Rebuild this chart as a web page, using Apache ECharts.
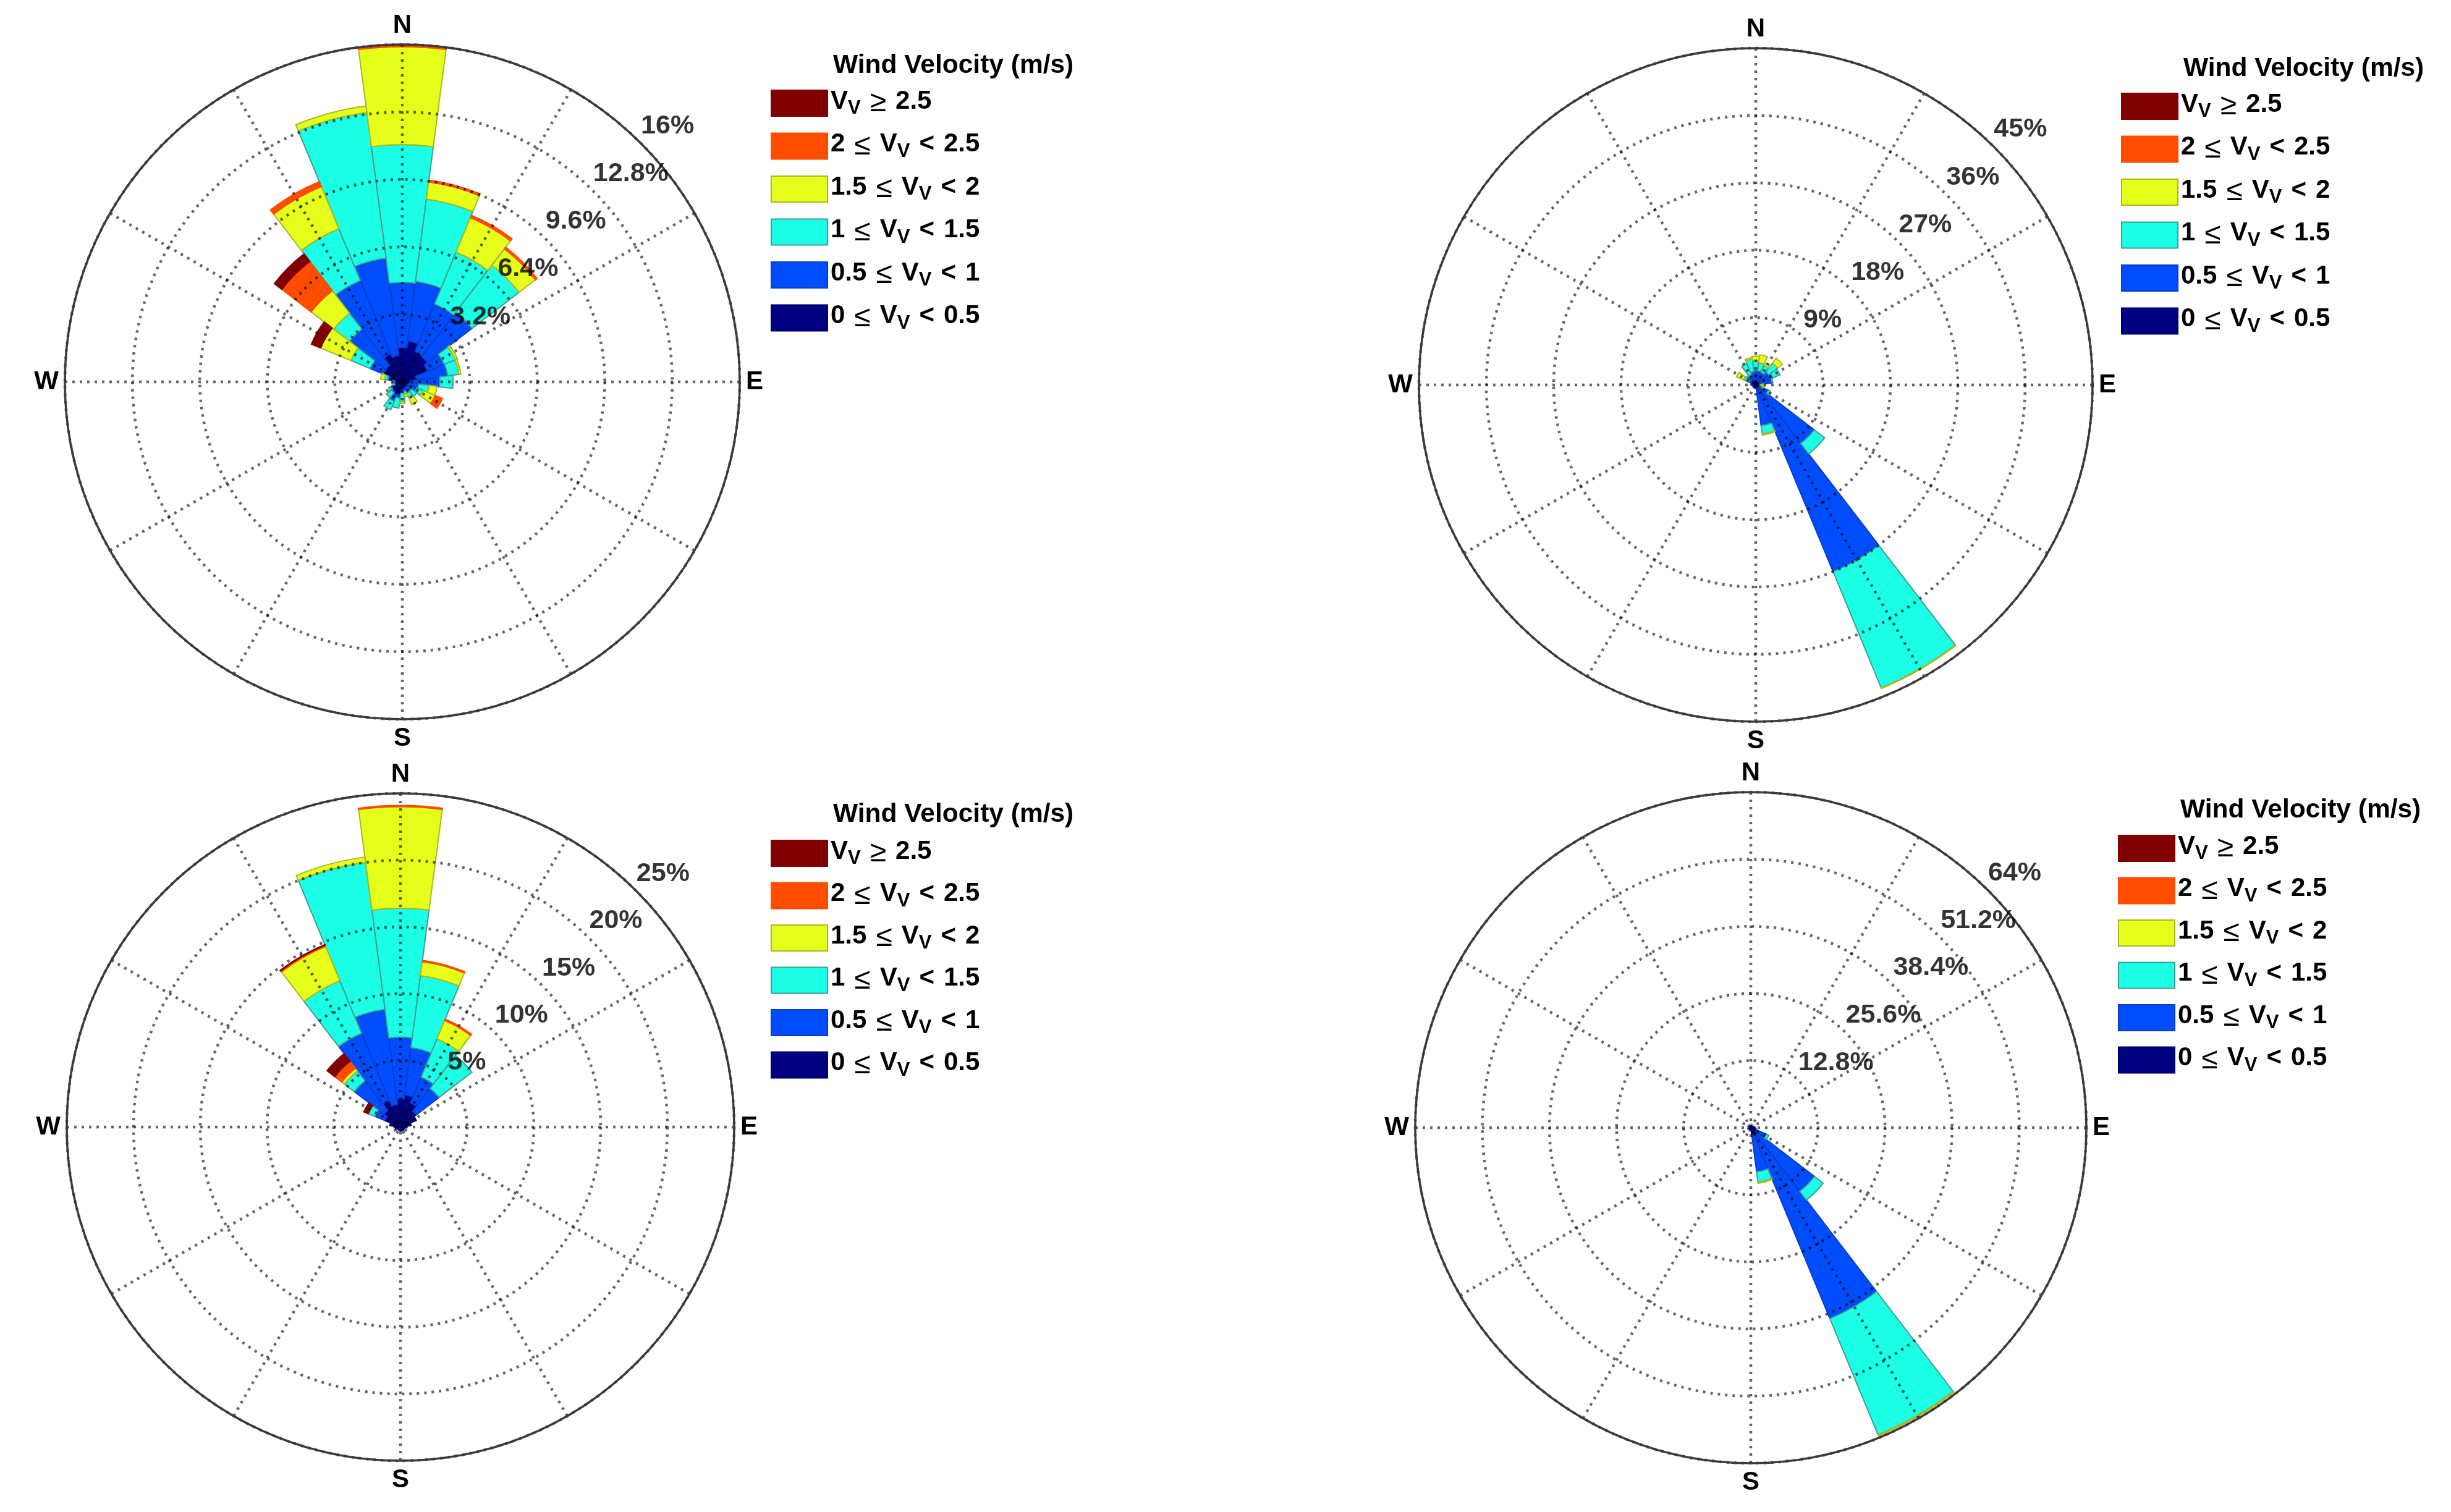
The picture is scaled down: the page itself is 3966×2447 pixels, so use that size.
<!DOCTYPE html>
<html>
<head>
    <meta charset="utf-8" />
    <script src="https://cdn.jsdelivr.net/npm/echarts@6/dist/echarts.min.js"></script>
    <style>
        html, body { margin: 0; padding: 0; background: #fff; }
        #main { width: 3966px; height: 2447px; }
    </style>
</head>
<body>
<div id="main"></div>
<script type="text/javascript">
    // direction bins, clockwise from north
    var directions = ['0', '15', '30', '45', '60', '75', '90', '105', '120', '135', '150', '165',
        '180', '195', '210', '225', '240', '255', '270', '285', '300', '315', '330', '345'];
    var speedLabels = ['0 ≤ V_V < 0.5', '0.5 ≤ V_V < 1', '1 ≤ V_V < 1.5', '1.5 ≤ V_V < 2', '2 ≤ V_V < 2.5', 'V_V ≥ 2.5'];
    var speedColors = ['#000080', '#004dff', '#1affe6', '#e6ff1a', '#ff4d00', '#800000'];
    var edgeColors = ['#00006a', '#0a3cc8', '#3f9c90', '#a8b820', '#ff4d00', '#800000'];
    var legendTitle = 'Wind Velocity (m/s)';

    var aCalm   = [1.63, 1.96, 1.56, 1.5, 1.3, 0.68, 0.4, 0.36, 0.3, 0.3, 0.3, 0.35, 0.4, 0.62, 0.68, 0.58, 0.5, 0.35, 0.35, 0.63, 0.97, 1.0, 1.43, 1.26];
    var aLow    = [4.72, 4.8, 4.0, 4.16, 2.15, 2.17, 1.78, 0.78, 0.74, 0.55, 0.56, 0.45, 0.54, 0.78, 1.0, 0.65, 0.6, 0.4, 0.4, 0.7, 1.65, 3.15, 5.2, 5.92];
    var aMid    = [11.25, 8.74, 6.66, 6.97, 2.73, 2.71, 2.41, 1.29, 1.07, 0.86, 0.86, 0.6, 0.95, 1.26, 1.43, 0.95, 0.7, 0.5, 0.47, 0.85, 2.64, 4.1, 7.86, 12.88];
    var aHigh   = [15.9, 9.56, 8.43, 7.95, 2.83, 2.8, 2.41, 1.67, 1.69, 0.86, 1.17, 0.73, 1.03, 1.26, 1.43, 0.95, 0.7, 0.5, 0.47, 1.04, 4.19, 5.45, 10.03, 13.2];
    var aStrong = [16, 9.65, 8.55, 8.05, 2.83, 2.8, 2.41, 1.67, 2.06, 0.86, 1.17, 0.73, 1.03, 1.26, 1.43, 0.95, 0.7, 0.5, 0.47, 1.04, 4.19, 7.2, 10.28, 13.2];
    var aTop    = [16, 9.65, 8.55, 8.05, 2.83, 2.8, 2.41, 1.67, 2.06, 0.86, 1.17, 0.73, 1.03, 1.26, 1.43, 0.95, 0.7, 0.5, 0.47, 1.04, 4.67, 7.65, 10.28, 13.2];
    var aTicks  = [3.2, 6.4, 9.6, 12.8, 16];

    var bCalm   = [0.8, 0.7, 0.6, 0.7, 0.6, 0.5, 0.3, 0.3, 0.4, 0.5, 0.5, 0.4, 0.3, 0.3, 0.3, 0.3, 0.3, 0.3, 0.5, 0.6, 0.7, 0.8, 0.8, 0.7];
    var bLow    = [2.0, 1.9, 1.8, 2.2, 2.5, 2.2, 0.6, 0.8, 1.8, 9.85, 27, 5.5, 0.5, 0.4, 0.4, 0.4, 0.4, 0.4, 0.6, 0.7, 1.0, 1.4, 1.5, 1.8];
    var bMid    = [3.3, 3.0, 2.9, 3.7, 3.5, 2.3, 0.7, 1.0, 2.1, 11.6, 43.8, 6.6, 0.5, 0.4, 0.4, 0.4, 0.4, 0.4, 0.6, 0.7, 1.75, 1.6, 3.1, 3.5];
    var bHigh   = [3.86, 4.07, 3.2, 4.5, 3.5, 2.3, 1.1, 1.2, 2.1, 11.6, 43.9, 6.75, 0.5, 0.4, 0.4, 0.4, 0.4, 0.4, 0.6, 0.7, 2.8, 1.6, 3.1, 3.7];
    var bStrong = [3.86, 4.07, 3.2, 4.5, 3.5, 2.3, 1.1, 1.2, 2.1, 11.6, 43.9, 6.75, 0.5, 0.4, 0.4, 0.4, 0.4, 0.4, 0.6, 0.7, 2.8, 1.6, 3.1, 3.7];
    var bTop    = [3.86, 4.07, 3.2, 4.5, 3.5, 2.3, 1.1, 1.2, 2.1, 11.6, 43.9, 6.75, 0.5, 0.4, 0.4, 0.4, 0.4, 0.4, 0.6, 0.7, 2.8, 1.6, 3.1, 3.7];
    var bTicks  = [9, 18, 27, 36, 45];

    var cCalm   = [2.13, 2.43, 1.96, 1.5, 1.28, 0.8, 0.43, 0.3, 0.3, 0.3, 0.3, 0.3, 0.3, 0.25, 0.25, 0.25, 0.3, 0.38, 0.3, 0.8, 1.27, 1.57, 2.16, 1.71];
    var cLow    = [6.74, 6.0, 4.05, 3.64, 1.28, 0.8, 0.43, 0.3, 0.3, 0.3, 0.3, 0.3, 0.3, 0.25, 0.25, 0.25, 0.3, 0.38, 0.3, 0.8, 2.08, 4.36, 7.6, 8.9];
    var cMid    = [16.4, 11.44, 7.15, 6.75, 1.28, 0.8, 0.43, 0.3, 0.3, 0.3, 0.3, 0.3, 0.3, 0.25, 0.25, 0.25, 0.3, 0.38, 0.3, 0.8, 2.62, 5.28, 11.87, 20.0];
    var cHigh   = [24.0, 12.5, 8.64, 6.75, 1.28, 0.8, 0.43, 0.3, 0.3, 0.3, 0.3, 0.3, 0.3, 0.25, 0.25, 0.25, 0.3, 0.38, 0.3, 0.8, 2.62, 5.55, 14.65, 20.4];
    var cStrong = [24.1, 12.6, 8.75, 6.75, 1.28, 0.8, 0.43, 0.3, 0.3, 0.3, 0.3, 0.3, 0.3, 0.25, 0.25, 0.25, 0.3, 0.38, 0.3, 0.8, 2.62, 6.2, 14.75, 20.4];
    var cTop    = [24.1, 12.6, 8.75, 6.75, 1.28, 0.8, 0.43, 0.3, 0.3, 0.3, 0.3, 0.3, 0.3, 0.25, 0.25, 0.25, 0.3, 0.38, 0.3, 0.8, 2.97, 6.93, 14.8, 20.4];
    var cTicks  = [5, 10, 15, 20, 25];

    var dCalm   = [0.3, 0.3, 0.3, 0.3, 0.3, 0.5, 0.8, 1.0, 1.2, 1.6, 1.7, 1.5, 0.6, 0.3, 0.3, 0.3, 0.3, 0.3, 0.3, 0.3, 0.3, 0.3, 0.3, 0.3];
    var dLow    = [0.3, 0.3, 0.3, 0.3, 0.3, 0.5, 0.8, 1.0, 3.2, 15.3, 39.4, 8.5, 0.6, 0.3, 0.3, 0.3, 0.3, 0.3, 0.3, 0.3, 0.3, 0.3, 0.3, 0.3];
    var dMid    = [0.3, 0.3, 0.3, 0.3, 0.3, 0.5, 0.8, 1.0, 3.7, 17.4, 63.4, 10.5, 0.6, 0.3, 0.3, 0.3, 0.3, 0.3, 0.3, 0.3, 0.3, 0.3, 0.3, 0.3];
    var dHigh   = [0.3, 0.3, 0.3, 0.3, 0.3, 0.5, 0.8, 1.0, 3.7, 17.4, 63.6, 10.7, 0.6, 0.3, 0.3, 0.3, 0.3, 0.3, 0.3, 0.3, 0.3, 0.3, 0.3, 0.3];
    var dStrong = [0.3, 0.3, 0.3, 0.3, 0.3, 0.5, 0.8, 1.0, 3.7, 17.4, 63.6, 10.7, 0.6, 0.3, 0.3, 0.3, 0.3, 0.3, 0.3, 0.3, 0.3, 0.3, 0.3, 0.3];
    var dTop    = [0.3, 0.3, 0.3, 0.3, 0.3, 0.5, 0.8, 1.0, 3.7, 17.4, 63.6, 10.7, 0.6, 0.3, 0.3, 0.3, 0.3, 0.3, 0.3, 0.3, 0.3, 0.3, 0.3, 0.3];
    var dTicks  = [12.8, 25.6, 38.4, 51.2, 64];

    var panels = [
        { bands: [aCalm, aLow, aMid, aHigh, aStrong, aTop], ticks: aTicks, center: [651, 618], radius: 546, legendLeft: 1247, legendTop: 132, titleTop: 85, gap: 10.5 },
        { bands: [bCalm, bLow, bMid, bHigh, bStrong, bTop], ticks: bTicks, center: [2841, 623], radius: 545, legendLeft: 3432, legendTop: 137, titleTop: 90, gap: 10.5 },
        { bands: [cCalm, cLow, cMid, cHigh, cStrong, cTop], ticks: cTicks, center: [648, 1824], radius: 540, legendLeft: 1247, legendTop: 1346, titleTop: 1297, gap: 9.5 },
        { bands: [dCalm, dLow, dMid, dHigh, dStrong, dTop], ticks: dTicks, center: [2833, 1825], radius: 543, legendLeft: 3427, legendTop: 1338, titleTop: 1290, gap: 9.5 }
    ];

    var compass = { 0: 'N', 90: 'E', 180: 'S', 270: 'W' };
    var gridDots = { color: 'rgba(0,0,0,0.6)', width: 4.5, type: [4, 8] };
    var fontName = '"Liberation Sans", Arial, sans-serif';

    // legend text is built from rich tokens so the V gets its subscript
    function legendText(name) {
        return name.split(' ').map(function (part) {
            if (part === 'V_V') return '{m|V}{s|V}';
            if (part === '≤' || part === '≥') return '{n|' + part + '}';
            return '{m|' + part + '}';
        }).join('{g| }');
    }

    var polar = [], angleAxis = [], radiusAxis = [], series = [], legend = [], title = [];

    panels.forEach(function (p, n) {
        var barPolar = polar.length;
        var gridPolar = barPolar + 1;
        var max = p.ticks[p.ticks.length - 1];

        // bars sit on a category polar, rings and spokes on a value polar above it
        polar.push({ center: p.center, radius: p.radius }, { center: p.center, radius: p.radius });

        angleAxis.push({
            polarIndex: barPolar, type: 'category', data: directions, startAngle: 97.5, boundaryGap: true,
            axisLine: { show: false }, axisTick: { show: false }, axisLabel: { show: false }, splitLine: { show: false }
        });
        radiusAxis.push({
            polarIndex: barPolar, type: 'value', min: 0, max: max,
            axisLine: { show: false }, axisTick: { show: false }, axisLabel: { show: false }, splitLine: { show: false }
        });

        angleAxis.push({
            polarIndex: gridPolar, type: 'value', min: 0, max: 360, interval: 30, startAngle: 90, z: 4,
            axisLine: { lineStyle: { color: '#3a3a3a', width: 3.5 } },
            axisTick: { show: false },
            axisLabel: {
                margin: 10, fontFamily: fontName, fontWeight: 'bold', fontSize: 42, color: '#000',
                formatter: function (v) { return compass[v] || ''; }
            },
            splitLine: { lineStyle: gridDots }
        });
        radiusAxis.push({
            polarIndex: gridPolar, type: 'value', min: 0, max: max, interval: p.ticks[0], z: 4,
            axisLine: { show: false }, axisTick: { show: false }, axisLabel: { show: false },
            splitLine: { lineStyle: gridDots }
        });

        p.bands.forEach(function (edge, b) {
            var lower = b > 0 ? p.bands[b - 1] : null;
            series.push({
                name: speedLabels[b],
                type: 'bar',
                coordinateSystem: 'polar',
                polarIndex: barPolar,
                stack: 'rose' + n,
                barCategoryGap: '0%',
                animation: false,
                itemStyle: { color: speedColors[b], borderColor: edgeColors[b], borderWidth: 2 },
                data: edge.map(function (v, i) {
                    var h = lower ? v - lower[i] : v;
                    return h > 0.001 ? +h.toFixed(3) : '-';
                })
            });
        });

        // percent labels next to the rings, along the 45 degree spoke
        series.push({
            name: 'ticks' + n,
            type: 'scatter',
            coordinateSystem: 'polar',
            polarIndex: gridPolar,
            symbolSize: 0,
            z: 6,
            animation: false,
            silent: true,
            data: p.ticks.map(function (t) { return [t, 45]; }),
            label: {
                show: true, position: 'right', distance: 0, offset: [0, -28],
                fontFamily: fontName, fontWeight: 'bold', fontSize: 43, color: '#000',
                formatter: function (o) { return o.value[0] + '%'; }
            }
        });

        title.push({
            text: legendTitle, left: p.legendLeft + 101, top: p.titleTop, padding: 0,
            textStyle: { fontFamily: fontName, fontWeight: 'bold', fontSize: 42.5, color: '#000' }
        });

        legend.push({
            orient: 'vertical', left: p.legendLeft, top: p.legendTop, padding: 0,
            itemWidth: 91, itemHeight: 42, itemGap: p.gap, icon: 'rect', selectedMode: false,
            data: speedLabels.slice().reverse(),
            formatter: legendText,
            textStyle: {
                rich: {
                    m: { fontFamily: fontName, fontWeight: 'bold', fontSize: 42, color: '#000', lineHeight: 48, verticalAlign: 'top' },
                    n: { fontFamily: fontName, fontSize: 48, color: '#000', lineHeight: 48, verticalAlign: 'top' },
                    s: { fontFamily: fontName, fontWeight: 'bold', fontSize: 31, color: '#000', lineHeight: 32, padding: [28, 0, 0, 0], verticalAlign: 'bottom' },
                    g: { fontSize: 20, width: 15, lineHeight: 48, verticalAlign: 'top' }
                }
            }
        });
    });

    var chart = echarts.init(document.getElementById('main'));
    chart.setOption({
        backgroundColor: '#fff',
        animation: false,
        title: title,
        legend: legend,
        polar: polar,
        angleAxis: angleAxis,
        radiusAxis: radiusAxis,
        series: series
    });
</script>
</body>
</html>
